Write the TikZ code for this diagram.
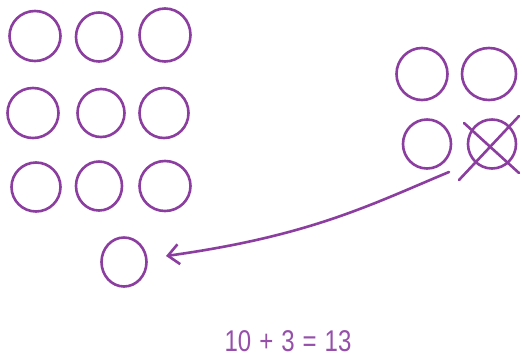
\documentclass[tikz,border=0pt]{standalone}
\usepackage{fontspec}
\newfontfamily\handfont{Liberation Sans}
\usetikzlibrary{shapes.geometric,arrows.meta}
\definecolor{pen}{RGB}{140,62,160}
\definecolor{penlight}{RGB}{150,80,170}
\tikzset{
  ring/.style={ellipse,draw=pen,line width=2.6pt,inner sep=0pt},
  cross/.style={draw=pen,line width=2.6pt,line cap=round},
  arrowline/.style={draw=pen,line width=2.6pt,line cap=round,
    -{Straight Barb[length=11pt,width=20pt,line width=2.6pt]}}
}
\begin{document}
\begin{tikzpicture}[x=1pt,y=-1pt]
\useasboundingbox[fill=white] (0,0) rectangle (522,357);
% left 3x3 grid
\node[ring,minimum width=51pt,minimum height=50pt] (a1) at (35,36) {};
\node[ring,minimum width=46pt,minimum height=49pt] (a2) at (99,37) {};
\node[ring,minimum width=51pt,minimum height=53pt] (a3) at (165,35) {};
\node[ring,minimum width=51pt,minimum height=50pt] (b1) at (33,113) {};
\node[ring,minimum width=47pt,minimum height=48pt] (b2) at (101,113) {};
\node[ring,minimum width=49pt,minimum height=50pt] (b3) at (164,113) {};
\node[ring,minimum width=49pt,minimum height=49pt] (c1) at (36,187) {};
\node[ring,minimum width=46pt,minimum height=49pt] (c2) at (99,186) {};
\node[ring,minimum width=51pt,minimum height=50pt] (c3) at (165,186) {};
% lone circle
\node[ring,minimum width=45pt,minimum height=49pt] (lone) at (124,262) {};
% right 2x2 grid
\node[ring,minimum width=51pt,minimum height=52pt] (r1) at (422,74) {};
\node[ring,minimum width=54pt,minimum height=52pt] (r2) at (489,74) {};
\node[ring,minimum width=48pt,minimum height=49pt] (r3) at (427,144) {};
\node[ring,minimum width=48pt,minimum height=49pt] (r4) at (492,144) {};
% cross over r4
\coordinate (x1a) at (464,123);
\coordinate (x1b) at (519,173);
\coordinate (x2a) at (519,116);
\coordinate (x2b) at (459,180);
\draw[cross] (x1a) -- (x1b);
\draw[cross] (x2a) -- (x2b);
% arrow
\coordinate (as) at (449,172);
\coordinate (ae) at (166,256);
\draw[arrowline] (as) .. controls (370,205) and (310,236) .. (ae);
% equation
\node[text=penlight,inner sep=0pt] (eq) at (288,341)
  {\scalebox{0.8}[1]{\handfont\fontsize{30}{30}\selectfont 10\hspace{10pt}+\hspace{10pt}3\hspace{10pt}=\hspace{10pt}13}};
\end{tikzpicture}
\end{document}
